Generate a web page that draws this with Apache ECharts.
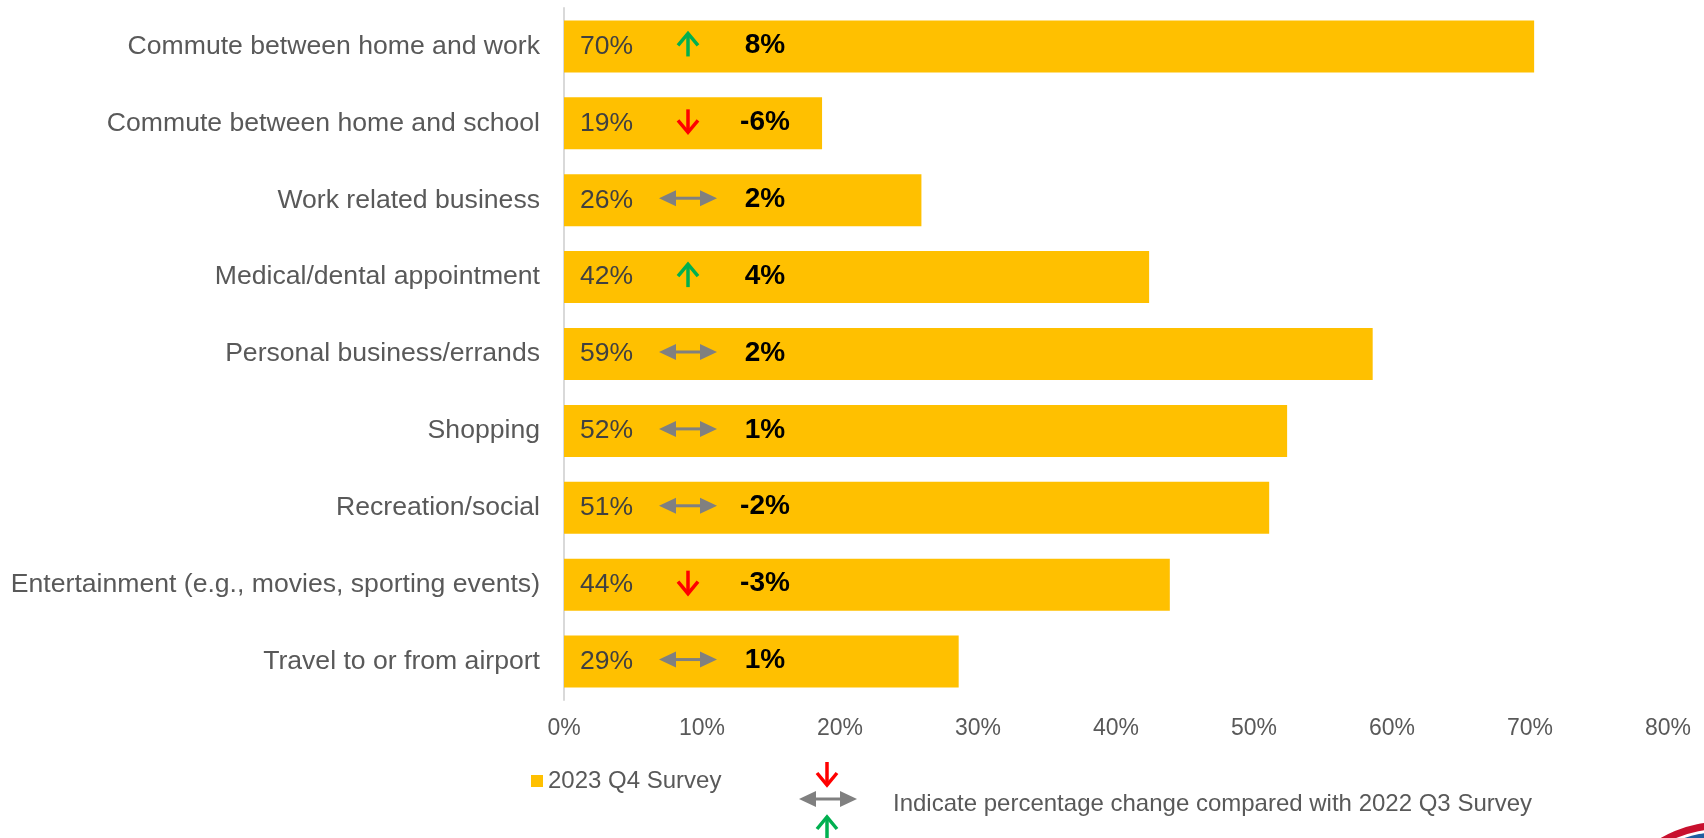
<!DOCTYPE html>
<html>
<head>
<meta charset="utf-8">
<script src="https://cdn.jsdelivr.net/npm/echarts@6/dist/echarts.min.js"></script>
<style>
  html, body { margin: 0; padding: 0; background: #ffffff; }
  #chart { width: 1704px; height: 838px; }
</style>
</head>
<body>
<div id="chart"></div>
<script>
// Trip purposes, top to bottom
var categories = [
  'Commute between home and work',
  'Commute between home and school',
  'Work related business',
  'Medical/dental appointment',
  'Personal business/errands',
  'Shopping',
  'Recreation/social',
  'Entertainment (e.g., movies, sporting events)',
  'Travel to or from airport'
];

// Share of respondents, 2023 Q4 survey (%)
var shares2023Q4 = [70.3, 18.7, 25.9, 42.4, 58.6, 52.4, 51.1, 43.9, 28.6];

// Percentage-point change vs 2022 Q3 survey
var changeVsQ3 = [8, -6, 2, 4, 2, 1, -2, -3, 1];

// Value axis ticks
var axisTicks = [0, 10, 20, 30, 40, 50, 60, 70, 80];

var seriesName = '2023 Q4 Survey';
var noteText = 'Indicate percentage change compared with 2022 Q3 Survey';

var FONT = 'Arial, "Liberation Sans", Helvetica, sans-serif';
var GREEN = '#00B050', RED = '#FF0000', GREY = '#808080';

// Arrow glyph builders (relative to a centre point)
function upArrow(x, y, color) {
  return [
    { type: 'polyline', shape: { points: [[x, y + 12], [x, y - 11]] },
      style: { stroke: color, lineWidth: 3.5, fill: null } },
    { type: 'polyline', shape: { points: [[x - 10, y + 1], [x, y - 11], [x + 10, y + 1]] },
      style: { stroke: color, lineWidth: 3.5, fill: null, lineJoin: 'miter' } }
  ];
}
function downArrow(x, y, color) {
  return [
    { type: 'polyline', shape: { points: [[x, y - 12], [x, y + 11]] },
      style: { stroke: color, lineWidth: 3.5, fill: null } },
    { type: 'polyline', shape: { points: [[x - 10, y - 1], [x, y + 11], [x + 10, y - 1]] },
      style: { stroke: color, lineWidth: 3.5, fill: null, lineJoin: 'miter' } }
  ];
}
function sideArrow(x, y, color) {
  return [
    { type: 'polyline', shape: { points: [[x - 16, y], [x + 16, y]] },
      style: { stroke: color, lineWidth: 3, fill: null } },
    { type: 'polygon', shape: { points: [[x - 29, y], [x - 12, y - 8], [x - 12, y + 8]] },
      style: { fill: color } },
    { type: 'polygon', shape: { points: [[x + 29, y], [x + 12, y - 8], [x + 12, y + 8]] },
      style: { fill: color } }
  ];
}
function arrowFor(change, x, y) {
  if (change > 2) return upArrow(x, y, GREEN);
  if (change < -2) return downArrow(x, y, RED);
  return sideArrow(x, y, GREY);
}

var changeData = changeVsQ3.map(function (c, i) { return [0, i, c]; });

var chart = echarts.init(document.getElementById('chart'), null, { renderer: 'canvas' });

chart.setOption({
  backgroundColor: '#ffffff',
  animation: false,
  textStyle: { fontFamily: FONT },
  grid: { left: 564, right: 36, top: 8, bottom: 138, containLabel: false },
  legend: {
    data: [seriesName],
    left: 531, top: 769, padding: 0,
    itemWidth: 12, itemHeight: 12, itemGap: 10,
    icon: 'rect',
    textStyle: { fontFamily: FONT, fontSize: 24, color: '#595959', padding: [0, 0, 0, 0] }
  },
  xAxis: {
    type: 'value', min: 0, max: 80, interval: 10,
    axisLine: { show: false }, axisTick: { show: false }, splitLine: { show: false },
    axisLabel: {
      margin: 17, fontSize: 23, color: '#595959', fontFamily: FONT,
      formatter: function (v) { return axisTicks.indexOf(v) >= 0 ? v + '%' : ''; }
    }
  },
  yAxis: {
    type: 'category', data: categories, inverse: true,
    axisLine: { show: true, lineStyle: { color: '#d9d9d9', width: 2 } },
    axisTick: { show: false },
    axisLabel: { margin: 24, fontSize: 26.6, color: '#595959', fontFamily: FONT }
  },
  series: [
    {
      name: seriesName, type: 'bar', data: shares2023Q4, barWidth: 52,
      itemStyle: { color: '#FFC000' },
      label: {
        show: true, position: 'insideLeft', distance: 16,
        fontSize: 26.5, color: '#404040', fontFamily: FONT,
        formatter: function (p) { return Math.round(p.value) + '%'; }
      }
    },
    {
      name: 'change', type: 'custom', data: changeData, z: 5,
      renderItem: function (params, api) {
        var base = api.coord([0, api.value(1)]);
        var c = api.value(2);
        var children = arrowFor(c, base[0] + 124, base[1] - 2);
        children.push({
          type: 'text',
          style: {
            x: base[0] + 201, y: base[1] - 1, text: c + '%',
            fill: '#000000', font: 'bold 28px ' + FONT,
            textAlign: 'center', textVerticalAlign: 'middle'
          }
        });
        return { type: 'group', children: children };
      }
    }
  ],
  graphic: [
    // Key for the change arrows
    { type: 'group', children:
      downArrow(827, 774, RED)
        .concat(sideArrow(828, 799, GREY))
        .concat(upArrow(827, 828, GREEN))
    },
    { type: 'text', left: 893, top: 792,
      style: { text: noteText, font: '24px ' + FONT, fill: '#595959' } },
    // Corner emblem
    { type: 'ring', shape: { cx: 1720, cy: 940, r: 118, r0: 111 }, style: { fill: '#C8102E' } },
    { type: 'ring', shape: { cx: 1720, cy: 940, r: 108, r0: 101 }, style: { fill: '#1F5DA0' } }
  ]
});
</script>
</body>
</html>
